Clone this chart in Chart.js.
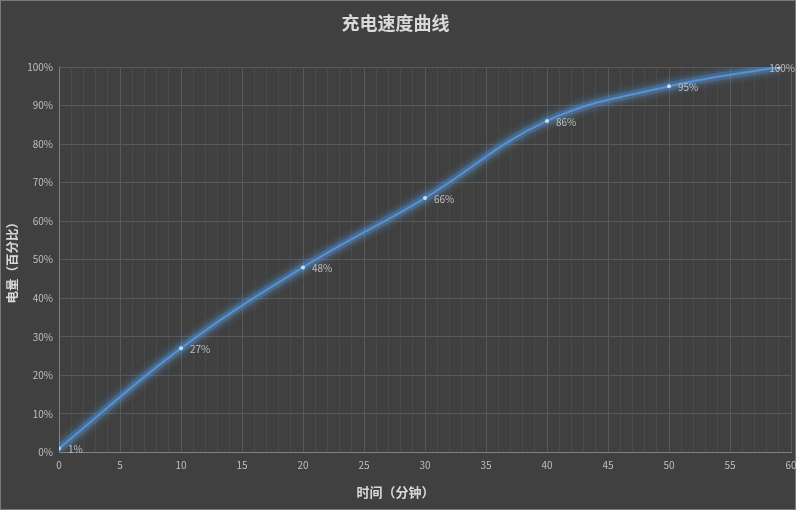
<!DOCTYPE html>
<html>
<head>
<meta charset="utf-8">
<title>充电速度曲线</title>
<script src="https://cdn.jsdelivr.net/npm/chart.js"></script>
<style>
body{ margin:0; background:#404040; }
</style>
</head>
<body>
<canvas id="myChart" width="796" height="510"></canvas>
<script>
// 时间（分钟）/ 电量（百分比）
const minutes = [0, 10, 20, 30, 40, 50, 59];
const percent = [1, 27, 48, 66, 86, 95, 100];
const xMax = 60;
const yMax = 100;

const FONT = "'Noto Sans CJK SC', 'Noto Sans', sans-serif";

// 배경 + 테두리
const bgPlugin = {
    id: 'bg',
    beforeDraw(chart){
        const c = chart.ctx;
        c.save();
        c.fillStyle = '#404040';
        c.fillRect(0, 0, chart.width, chart.height);
        c.strokeStyle = '#7a7a7a';
        c.lineWidth = 1;
        c.strokeRect(0.5, 0.5, chart.width - 1, chart.height - 1);
        c.restore();
    }
};

// 선 glow
const glowPlugin = {
    id: 'glow',
    beforeDatasetDraw(chart){
        const c = chart.ctx;
        c.save();
        c.shadowColor = 'rgba(91,155,213,1)';
        c.shadowBlur = 8;
    },
    afterDatasetDraw(chart){
        chart.ctx.restore();
    }
};

// 데이터 라벨
const labelPlugin = {
    id: 'pointLabels',
    afterDatasetsDraw(chart){
        const c = chart.ctx;
        const meta = chart.getDatasetMeta(0);
        c.save();
        c.font = '10px ' + FONT;
        c.fillStyle = '#bfbfbf';
        c.textBaseline = 'middle';
        meta.data.forEach(function(pt, i){
            const txt = percent[i] + '%';
            const w = c.measureText(txt).width;
            let x = pt.x + 9;
            if (x + w > chart.width - 1) x = chart.width - 1 - w;
            c.fillText(txt, x, pt.y + 1);
        });
        c.restore();
    }
};

const points = minutes.map((m, i) => ({x: m, y: percent[i]}));

const data = {
    datasets: [{
        label: '电量',
        data: points,
        borderColor: '#5592d8',
        borderWidth: 2,
        tension: 0.4,
        pointRadius: 2,
        pointBackgroundColor: '#c8ddf4',
        pointBorderWidth: 0,
        fill: false,
        order: 0
    }, {
        // 번짐 효과용 (같은 데이터)
        label: 'glow',
        data: points,
        borderColor: 'rgba(80,140,210,0.28)',
        borderWidth: 8,
        tension: 0.4,
        pointRadius: 0,
        fill: false,
        order: 1
    }]
};

const config = {
    type: 'line',
    data: data,
    options: {
        responsive: false,
        animation: false,
        layout: { padding: { left: 0, right: 5, top: 0, bottom: 0 } },
        plugins: {
            legend: { display: false },
            tooltip: { enabled: false },
            title: {
                display: true,
                text: '充电速度曲线',
                color: '#d9d9d9',
                font: { family: FONT, size: 18, weight: 'bold' },
                padding: { top: 12, bottom: 33.4 }
            },
            subtitle: {
                display: true,
                position: 'bottom',
                text: '时间（分钟）',
                color: '#d9d9d9',
                font: { family: FONT, size: 13, weight: 'bold' },
                padding: { top: 0, bottom: 10 }
            }
        },
        scales: {
            x: {
                type: 'linear',
                min: 0,
                max: xMax,
                afterFit: function(s){ s.height = 32; s.paddingLeft = 0; s.paddingRight = 0; },
                grid: {
                    color: ctx => (ctx.tick && ctx.tick.value % 5 === 0) ? '#595959' : '#4a4a4a',
                    drawTicks: false
                },
                border: { color: '#808080' },
                ticks: {
                    stepSize: 1,
                    autoSkip: false,
                    maxRotation: 0,
                    padding: 7,
                    color: '#bfbfbf',
                    font: { family: FONT, size: 10 },
                    callback: v => (v % 5 === 0 ? v : '')
                }
            },
            y: {
                min: 0,
                max: yMax,
                afterFit: function(s){ s.width = 59; },
                grid: { color: '#595959', drawTicks: false },
                border: { color: '#808080' },
                title: {
                    display: true,
                    text: '电量（百分比）',
                    color: '#d9d9d9',
                    font: { family: FONT, size: 12.5, weight: 'bold' },
                    padding: { top: 5, bottom: 0 }
                },
                ticks: {
                    stepSize: 10,
                    padding: 6,
                    color: '#bfbfbf',
                    font: { family: FONT, size: 10 },
                    callback: v => v + '%'
                }
            }
        }
    },
    plugins: [bgPlugin, glowPlugin, labelPlugin]
};

var myChart = new Chart(document.getElementById('myChart'), config);
</script>
</body>
</html>
